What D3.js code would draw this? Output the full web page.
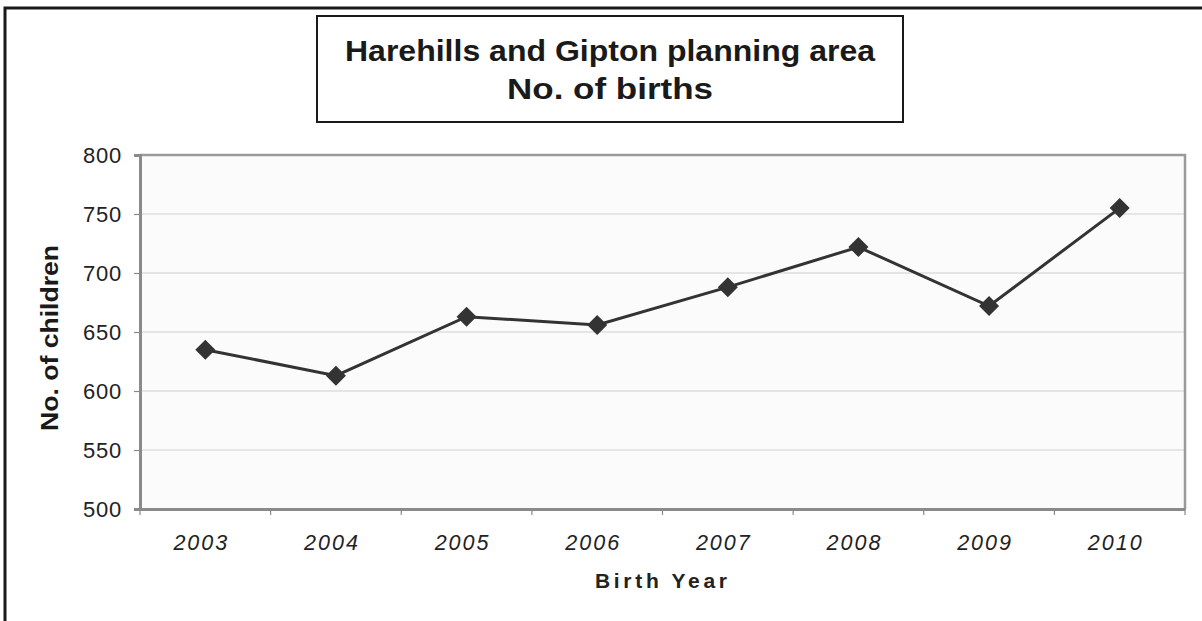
<!DOCTYPE html>
<html>
<head>
<meta charset="utf-8">
<script src="https://cdn.jsdelivr.net/npm/d3@7"></script>
<style>
  html, body { margin: 0; padding: 0; background: #fff; }
  svg { display: block; font-family: "Liberation Sans", Arial, sans-serif; }
</style>
</head>
<body>
<svg id="chart" width="1202" height="621"></svg>
<script>
const years = ["2003", "2004", "2005", "2006", "2007", "2008", "2009", "2010"];
const births = [635, 613, 663, 656, 688, 722, 672, 755];
const yTicks = [500, 550, 600, 650, 700, 750, 800];
const titleLines = ["Harehills and Gipton planning area", "No. of births"];
const xTitle = "Birth Year";
const yTitle = "No. of children";

const svg = d3.select("#chart");
const W = 1202, H = 621;
const m = { left: 140, right: 1185, top: 155, bottom: 509 };

// outer frame (left and top edges visible)
svg.append("path")
  .attr("d", `M5,${H} L5,8 L${W},8`)
  .attr("fill", "none").attr("stroke", "#1a1a1a").attr("stroke-width", 3);

// title box
svg.append("rect")
  .attr("x", 317).attr("y", 16).attr("width", 586).attr("height", 106)
  .attr("fill", "#fff").attr("stroke", "#1a1a1a").attr("stroke-width", 2);
const titleWidths = [530, 206];
svg.append("g").selectAll("text").data(titleLines).join("text")
  .attr("x", 610).attr("y", (d, i) => 61 + i * 38)
  .attr("text-anchor", "middle")
  .attr("font-size", 30).attr("font-weight", "bold")
  .attr("textLength", (d, i) => titleWidths[i])
  .attr("lengthAdjust", "spacingAndGlyphs")
  .attr("fill", "#1a1a1a")
  .text(d => d);

const x = d3.scaleBand().domain(years).range([m.left, m.right]);
const y = d3.scaleLinear().domain([500, 800]).range([m.bottom, m.top]);

// plot background
svg.append("rect")
  .attr("x", m.left).attr("y", m.top)
  .attr("width", m.right - m.left).attr("height", m.bottom - m.top)
  .attr("fill", "#fbfbfb");

// gridlines
svg.append("g").selectAll("line").data(yTicks.filter(t => t > 500 && t < 800)).join("line")
  .attr("x1", m.left).attr("x2", m.right)
  .attr("y1", d => y(d)).attr("y2", d => y(d))
  .attr("stroke", "#cfcfcf").attr("stroke-width", 1.2);

// plot border (top & right)
svg.append("path")
  .attr("d", `M${m.left},${m.top} L${m.right},${m.top} L${m.right},${m.bottom}`)
  .attr("fill", "none").attr("stroke", "#9a9a9a").attr("stroke-width", 2.5);

// y axis
const yAxis = svg.append("g")
  .attr("transform", `translate(${m.left},0)`)
  .call(d3.axisLeft(y).tickValues(yTicks).tickSize(6).tickPadding(12));
yAxis.select(".domain").attr("stroke", "#8a8a8a").attr("stroke-width", 3);
yAxis.selectAll(".tick line").attr("stroke", "#8a8a8a").attr("stroke-width", 1.2);
yAxis.selectAll(".tick text")
  .attr("font-size", 22).attr("fill", "#222")
  .attr("font-family", "Liberation Sans, Arial, sans-serif")
  .attr("letter-spacing", 0.8);

// x axis
const xAxis = svg.append("g")
  .attr("transform", `translate(0,${m.bottom})`)
  .call(d3.axisBottom(x).tickSize(0).tickPadding(26));
xAxis.select(".domain").attr("stroke", "#8a8a8a").attr("stroke-width", 3);
xAxis.selectAll(".tick text")
  .attr("font-size", 21.5).attr("font-style", "italic").attr("fill", "#222")
  .attr("font-family", "Liberation Sans, Arial, sans-serif")
  .attr("letter-spacing", 2)
  .attr("dx", -4);
// tick marks at category boundaries
svg.append("g").selectAll("line").data(years).join("line")
  .attr("x1", d => x(d)).attr("x2", d => x(d))
  .attr("y1", m.bottom).attr("y2", m.bottom + 6)
  .attr("stroke", "#8a8a8a").attr("stroke-width", 1.2);
svg.append("line")
  .attr("x1", m.right).attr("x2", m.right)
  .attr("y1", m.bottom).attr("y2", m.bottom + 6)
  .attr("stroke", "#8a8a8a").attr("stroke-width", 1.2);

// axis titles
svg.append("text")
  .attr("x", 661).attr("y", 588)
  .attr("text-anchor", "middle")
  .attr("font-size", 21).attr("font-weight", "bold")
  .attr("textLength", 132).attr("lengthAdjust", "spacing")
  .attr("fill", "#222")
  .text(xTitle);
svg.append("text")
  .attr("transform", "translate(58,338) rotate(-90)")
  .attr("text-anchor", "middle")
  .attr("font-size", 24).attr("font-weight", "bold")
  .attr("textLength", 186).attr("lengthAdjust", "spacingAndGlyphs")
  .attr("fill", "#1a1a1a")
  .text(yTitle);

// line
const cx = d => x(d) + x.bandwidth() / 2;
svg.append("path")
  .datum(years.map((yr, i) => [cx(yr), y(births[i])]))
  .attr("d", d3.line())
  .attr("fill", "none").attr("stroke", "#333").attr("stroke-width", 3);

// diamond markers
svg.append("g").selectAll("path").data(years).join("path")
  .attr("d", d3.symbol(d3.symbolSquare, 200))
  .attr("transform", (d, i) => `translate(${cx(d)},${y(births[i])}) rotate(45)`)
  .attr("fill", "#333");
</script>
</body>
</html>
